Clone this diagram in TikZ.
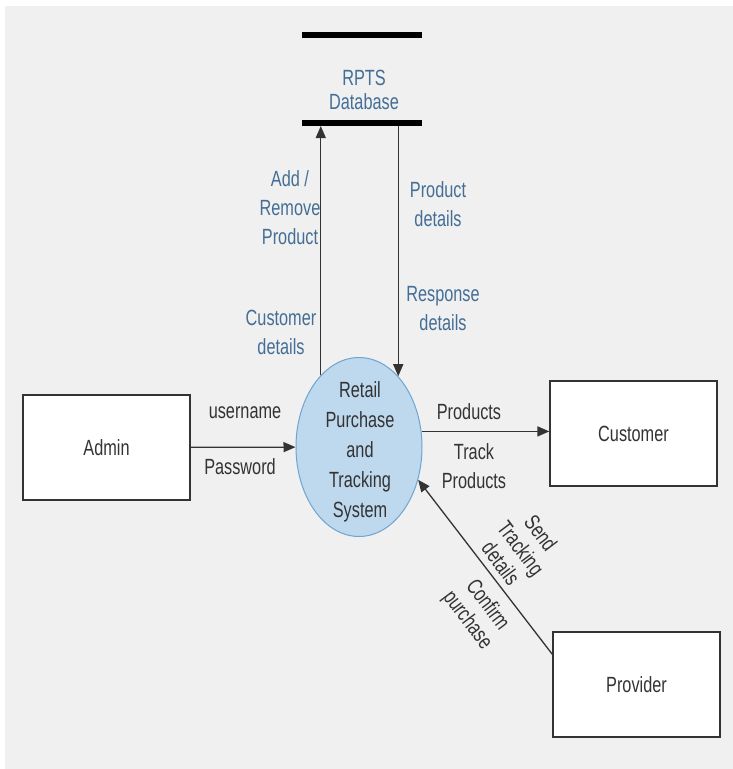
\documentclass[tikz,border=0pt]{standalone}
\usepackage{fontspec}
\setmainfont{Liberation Sans}[FakeStretch=0.74]
\usepackage{tikz}
\usetikzlibrary{arrows.meta,positioning,shapes}
\definecolor{bggray}{RGB}{239,240,239}
\definecolor{lblblue}{RGB}{68,110,150}
\definecolor{txtgray}{RGB}{51,51,51}
\definecolor{procfill}{RGB}{190,216,238}
\definecolor{procline}{RGB}{110,165,210}

\begin{document}
\begin{tikzpicture}
              [x=1pt,y=-1pt,
                every node/.style={font=\fontsize{22}{29}\selectfont,text=txtgray,align=center,inner sep=0pt},
                ent/.style={draw=black!80,line width=1.3pt,fill=white,minimum width=167pt,minimum height=105pt},
                proc/.style={ellipse,draw=procline,line width=1pt,fill=procfill,minimum width=126pt,minimum height=179pt},
                lbl/.style={text=lblblue},
                store/.style={line width=6pt},
                flow/.style={draw=black!80,line width=1.3pt,-{Triangle[length=12pt,width=10pt]}}]
              \useasboundingbox (0,0) rectangle (733,769);
              \fill[bggray] (5,6) rectangle (733,769);
              \draw[store] (302,35) -- (422,35);
              \draw[store] (302,123) -- (422,123);
              \node[lbl,font=\fontsize{22}{24}\selectfont] (n0) at (364,90) {RPTS\\Database};
              \coordinate (b0) at (321,126);
              \coordinate (b1) at (398,126);
              \node[proc] (n1) at (359,447) {};
              \node[font=\fontsize{22}{30}\selectfont] (n15) at (360,452) {Retail\\Purchase\\and\\Tracking\\System};
              \node[ent] (n2) at (106.5,447.5) {Admin};
              \node[ent] (n3) at (633.5,433.5) {Customer};
              \node[ent] (n4) at (636.5,684.5) {Provider};
              \draw[flow] (n1.118) -- (n1.118 |- b0);
              \draw[flow] (n1.61 |- b1) -- (n1.61);
              \draw[flow] (n2) -- (n1);
              \draw[flow,line width=1.6pt] (n1.14) -- (n1.14 -| n3.west);
              \draw[flow] ([yshift=-23pt]n4.north west) -- (n1.-29);
              \node[lbl] (n5) at (290,208) {Add /\\Remove\\Product};
              \node[lbl] (n6) at (281,332) {Customer\\details};
              \node[lbl] (n7) at (438,204) {Product\\details};
              \node[lbl] (n8) at (443,309) {Response\\details};
              \node (n9) at (245,413) {username};
              \node (n10) at (240,467) {Password};
              \node (n11) at (469,412) {Products};
              \node (n12) at (474,466) {Track\\Products};
              \node[rotate=-53,font=\fontsize{22}{25}\selectfont] (n13) at (521,548) {Send\\Tracking\\details};
              \node[rotate=-53,font=\fontsize{22}{25}\selectfont] (n14) at (477,613) {Confirm\\purchase};
            \end{tikzpicture}
\end{document}
